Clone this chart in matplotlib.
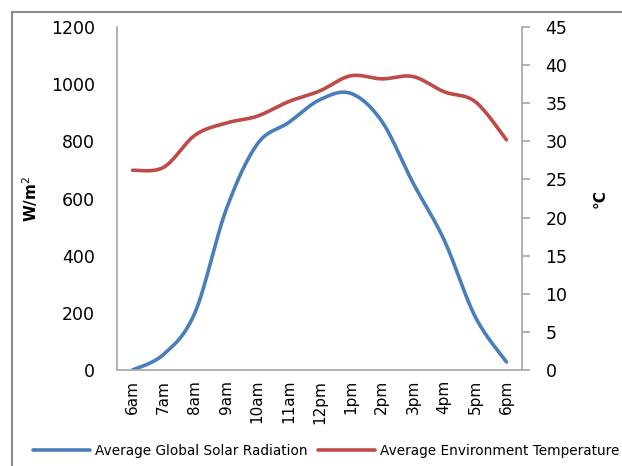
import numpy as np
import matplotlib.pyplot as plt
from matplotlib.patches import Rectangle

horas = ['6am', '7am', '8am', '9am', '10am', '11am', '12pm',
         '1pm', '2pm', '3pm', '4pm', '5pm', '6pm']
radiacion = [0, 55, 200, 560, 790, 865, 945, 968, 870, 655, 455, 186, 28]
temperatura = [26.2, 26.6, 30.8, 32.4, 33.3, 35.2, 36.6, 38.6, 38.2, 38.5, 36.5, 35.2, 30.2]

AZUL = '#4a7ebb'
ROJO = '#be4b48'
GRIS = '#a6a6a6'


# Suavizado tipo Excel (Catmull-Rom con curvas de Bezier)
def suavizar(xs, ys, n=30):
    xs = np.asarray(xs, float)
    ys = np.asarray(ys, float)
    px = np.concatenate([[xs[0]], xs, [xs[-1]]])
    py = np.concatenate([[ys[0]], ys, [ys[-1]]])
    out_x, out_y = [], []
    t = np.linspace(0, 1, n)
    for i in range(1, len(px) - 2):
        p0 = np.array([px[i], py[i]])
        p3 = np.array([px[i + 1], py[i + 1]])
        p1 = p0 + (np.array([px[i + 1], py[i + 1]]) - np.array([px[i - 1], py[i - 1]])) / 6
        p2 = p3 - (np.array([px[i + 2], py[i + 2]]) - np.array([px[i], py[i]])) / 6
        b = ((1 - t) ** 3)[:, None] * p0 + (3 * (1 - t) ** 2 * t)[:, None] * p1 \
            + (3 * (1 - t) * t ** 2)[:, None] * p2 + (t ** 3)[:, None] * p3
        out_x.extend(b[:, 0])
        out_y.extend(b[:, 1])
    return out_x, out_y


fig = plt.figure(figsize=(6.22, 4.66), dpi=100)
ax = fig.add_axes([117 / 622, 96 / 466, 405 / 622, 343 / 466])
ax2 = ax.twinx()

x = np.arange(len(horas))
sx, sy = suavizar(x, radiacion)
tx, ty = suavizar(x, temperatura)
l1, = ax.plot(sx, sy, color=AZUL, lw=2.6, solid_capstyle='round',
              label='Average Global Solar Radiation')
l2, = ax2.plot(tx, ty, color=ROJO, lw=2.6, solid_capstyle='round',
               label='Average Environment Temperature')

ax.set_xlim(-0.5, len(horas) - 0.5)
ax.set_ylim(0, 1200)
ax2.set_ylim(0, 45)
ax.set_yticks(range(0, 1201, 200))
ax2.set_yticks(range(0, 46, 5))
ax.set_xticks(x)
ax.set_xticklabels(horas, rotation=90, fontsize=11)

for a in (ax, ax2):
    a.spines['top'].set_visible(False)
    for s in a.spines.values():
        s.set_color(GRIS)
        s.set_linewidth(1.2)
ax.spines['right'].set_visible(False)
ax2.spines['left'].set_visible(False)
ax2.spines['bottom'].set_visible(False)

ax.tick_params(axis='y', length=0, pad=16, labelsize=12.5)
ax.tick_params(axis='x', length=0, pad=7)
ax2.tick_params(axis='y', length=6, width=1.2, color=GRIS, pad=11, labelsize=12.5)

ax.set_ylabel('W/m$^2$', fontsize=11, fontweight='bold', labelpad=8)
ax2.set_ylabel('°C', fontsize=11, fontweight='bold', labelpad=18)

fig.legend(handles=[l1, l2], loc='center left', bbox_to_anchor=(33 / 622, 15 / 466),
           ncol=2, frameon=False, fontsize=9.8, handlelength=4.2,
           handletextpad=0.37, columnspacing=0.73, borderaxespad=0, borderpad=0)

# Marco exterior del gráfico
fig.patches.append(Rectangle((12 / 622, -0.1), 1.2, 1.1 - 12 / 466,
                             transform=fig.transFigure, fill=False,
                             edgecolor='#8c8c8c', lw=1.5))

fig.savefig('out.png', dpi=100)
